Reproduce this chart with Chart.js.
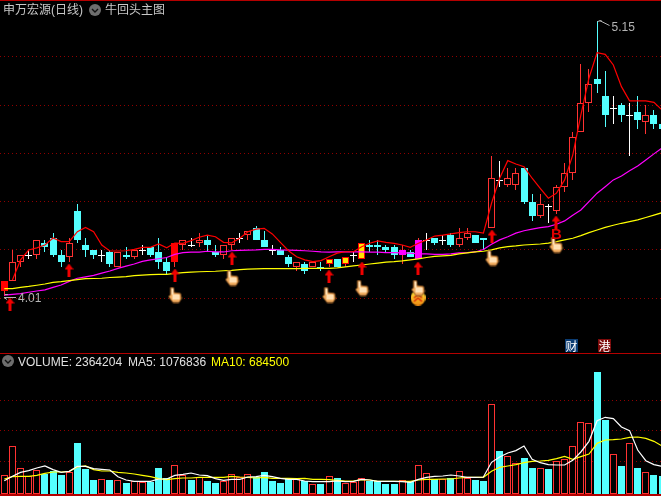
<!DOCTYPE html>
<html>
<head>
<meta charset="utf-8">
<title>申万宏源</title>
<script src="https://cdn.jsdelivr.net/npm/chart.js@4"></script>
<style>
    html, body { margin: 0; padding: 0; background: #000; overflow: hidden; }
    #stage { position: relative; width: 661px; height: 496px; background: #000; }
    canvas { position: absolute; left: 0; }
    #mainChart { top: 0; }
    #volChart { top: 354px; }
    .rule { position: absolute; left: 0; width: 661px; height: 1px; background: #b40000; }
    .txt { position: absolute; white-space: nowrap; font: 12px/14px "Liberation Sans", "Noto Sans CJK SC", sans-serif; color: #c8c8c8; }
    .badge { position: absolute; width: 13px; height: 13px; font: 12px/13px "Noto Sans CJK SC", sans-serif; color: #fff; text-align: center; }
    svg { position: absolute; }
</style>
</head>
<body>
<div id="stage">
    <canvas id="mainChart" width="661" height="353"></canvas>
    <canvas id="volChart" width="661" height="140"></canvas>
    <div class="rule" style="top:0"></div>
    <div class="rule" style="top:353px"></div>
    <div class="rule" style="top:494px;height:2px"></div>

    <span class="txt" style="left:3px;top:3px">申万宏源(日线)</span>
    <svg style="left:89px;top:4px" width="12" height="12"><circle cx="6" cy="6" r="6" fill="#6e6e6e"/><path d="M3 5l3 3 3-3" fill="none" stroke="#111" stroke-width="1.4"/></svg>
    <span class="txt" style="left:105px;top:3px">牛回头主图</span>

    <span class="badge" style="left:565px;top:339px;background:#0b3c72">财</span>
    <span class="badge" style="left:598px;top:339px;background:#7c0a0a">港</span>

    <svg style="left:2px;top:355px" width="12" height="12"><circle cx="6" cy="6" r="6" fill="#6e6e6e"/><path d="M3 5l3 3 3-3" fill="none" stroke="#111" stroke-width="1.4"/></svg>
    <span class="txt" style="left:18px;top:355px;color:#e0e0e0">VOLUME: 2364204</span>
    <span class="txt" style="left:128px;top:355px;color:#e0e0e0">MA5: 1076836</span>
    <span class="txt" style="left:211px;top:355px;color:#ffff00">MA10: 684500</span>
</div>
<script>
// Daily prices, one entry per bar
const opens = [4.03,4.07,4.15,4.18,4.18,4.23,4.25,4.18,4.17,4.36,4.22,4.20,4.18,4.19,4.13,4.18,4.17,4.20,4.21,4.19,4.15,4.15,4.22,4.22,4.23,4.24,4.19,4.18,4.22,4.25,4.26,4.29,4.24,4.20,4.20,4.17,4.13,4.14,4.13,4.13,4.14,4.16,4.14,4.18,4.16,4.22,4.22,4.21,4.21,4.18,4.19,4.16,4.24,4.25,4.24,4.26,4.22,4.25,4.26,4.25,4.29,4.49,4.47,4.47,4.54,4.40,4.34,4.38,4.36,4.46,4.52,4.69,4.81,4.91,4.84,4.79,4.80,4.76,4.77,4.73,4.76,4.72];
const highs = [4.07,4.20,4.18,4.20,4.24,4.24,4.27,4.20,4.25,4.39,4.25,4.20,4.20,4.20,4.19,4.21,4.20,4.22,4.21,4.25,4.17,4.23,4.24,4.25,4.27,4.26,4.22,4.22,4.25,4.27,4.28,4.30,4.28,4.22,4.21,4.18,4.15,4.15,4.15,4.15,4.16,4.16,4.17,4.19,4.23,4.24,4.24,4.22,4.22,4.22,4.20,4.25,4.27,4.25,4.26,4.27,4.29,4.29,4.26,4.25,4.59,4.57,4.54,4.54,4.54,4.43,4.43,4.39,4.47,4.56,4.69,4.97,4.95,5.15,4.94,4.84,4.81,4.81,4.84,4.80,4.78,4.72];
const lows = [4.01,4.07,4.13,4.16,4.16,4.19,4.17,4.13,4.15,4.23,4.17,4.16,4.15,4.13,4.13,4.16,4.16,4.18,4.17,4.12,4.10,4.13,4.20,4.21,4.21,4.19,4.17,4.16,4.20,4.23,4.24,4.24,4.21,4.18,4.18,4.13,4.11,4.10,4.13,4.11,4.13,4.13,4.13,4.15,4.16,4.19,4.18,4.19,4.16,4.14,4.17,4.16,4.20,4.22,4.22,4.21,4.21,4.24,4.23,4.20,4.29,4.46,4.46,4.45,4.39,4.32,4.33,4.31,4.35,4.44,4.49,4.69,4.77,4.85,4.71,4.72,4.73,4.59,4.70,4.68,4.70,4.70];
const closes = [4.07,4.15,4.18,4.18,4.24,4.21,4.18,4.15,4.23,4.24,4.20,4.18,4.18,4.14,4.19,4.17,4.20,4.20,4.18,4.15,4.11,4.23,4.24,4.22,4.24,4.22,4.18,4.22,4.25,4.25,4.28,4.24,4.21,4.20,4.18,4.14,4.15,4.11,4.15,4.12,4.16,4.13,4.17,4.18,4.23,4.21,4.21,4.20,4.18,4.20,4.17,4.24,4.24,4.23,4.24,4.22,4.25,4.27,4.23,4.24,4.50,4.49,4.50,4.52,4.40,4.34,4.39,4.38,4.46,4.52,4.67,4.81,4.89,4.89,4.76,4.79,4.76,4.76,4.74,4.76,4.72,4.70];

// Main panel averages
const redLine = [null,4.075,4.158,4.199,4.208,4.22,4.249,4.234,4.234,4.275,4.293,4.275,4.22,4.195,4.195,4.196,4.202,4.21,4.21,4.224,4.208,4.228,4.227,4.238,4.252,4.261,4.254,4.231,4.229,4.248,4.275,4.286,4.289,4.266,4.231,4.196,4.171,4.158,4.151,4.155,4.171,4.186,4.192,4.192,4.213,4.227,4.237,4.231,4.227,4.22,4.21,4.227,4.241,4.257,4.261,4.266,4.271,4.275,4.275,4.269,4.393,4.497,4.57,4.556,4.545,4.497,4.455,4.414,4.435,4.49,4.593,4.759,4.913,5.018,5.011,4.967,4.877,4.818,4.818,4.818,4.812,4.78];
const magentaLine = [4.012,4.015,4.018,4.024,4.029,4.034,4.044,4.054,4.069,4.082,4.088,4.094,4.103,4.112,4.123,4.132,4.141,4.152,4.158,4.163,4.168,4.181,4.188,4.19,4.19,4.194,4.191,4.191,4.196,4.198,4.199,4.2,4.202,4.202,4.2,4.199,4.198,4.196,4.194,4.191,4.19,4.191,4.192,4.191,4.191,4.19,4.19,4.188,4.188,4.187,4.186,4.183,4.183,4.181,4.181,4.183,4.187,4.188,4.191,4.201,4.223,4.241,4.254,4.269,4.279,4.286,4.292,4.296,4.306,4.32,4.343,4.365,4.4,4.435,4.462,4.49,4.506,4.528,4.548,4.573,4.598,4.623];
const yellowLine = [4.039,4.039,4.044,4.048,4.053,4.058,4.065,4.068,4.072,4.076,4.08,4.081,4.082,4.085,4.087,4.089,4.093,4.095,4.097,4.098,4.098,4.102,4.105,4.107,4.109,4.11,4.111,4.113,4.115,4.118,4.12,4.121,4.122,4.122,4.122,4.122,4.122,4.123,4.123,4.123,4.123,4.125,4.129,4.133,4.137,4.141,4.145,4.149,4.151,4.154,4.158,4.162,4.168,4.173,4.175,4.177,4.183,4.187,4.191,4.194,4.2,4.208,4.213,4.216,4.22,4.222,4.224,4.228,4.234,4.241,4.248,4.259,4.271,4.282,4.293,4.302,4.31,4.317,4.324,4.334,4.344,4.354];

// Volume panel, in units of 10000 shares
const volumes = [36.8,92.9,50.3,34.2,47,38.7,45.1,37.3,42.6,99.3,49,27.7,29,27.7,27.1,21.9,24.6,23.2,23.2,50.9,31,56.1,36.8,27.7,33.5,25.7,21.9,24.6,38.1,33.5,38.1,33.5,42.6,25.2,21.3,29,29,25.7,19.4,19.4,34.2,31,21.3,23.8,30.4,25.2,25.2,19.4,19.4,26.5,23.8,56.1,40.1,28.4,29.6,31,44.5,31,27.7,25.7,174.2,83.8,73.5,60,70.2,50.9,50.3,49,63.9,67.7,92.9,139.3,137.4,236.4,143.2,77.4,54.8,98.7,50.9,42.6,37.3,35.4];
const volMa5 = [25.8,34.2,41.9,45.2,50.3,54.2,47.1,41.9,43.9,53.5,53.5,49,47.7,46.4,33.5,27.1,24.5,24.5,24.5,29,29,36.1,38.1,40.6,36.8,35.5,29.7,26.4,28.4,28.4,32.9,33.5,36.1,33.5,30.3,28.4,28.4,25.2,23.9,23.9,23.9,25.2,23.9,24.5,28.4,27.1,24.5,24.5,24.5,23.9,22.6,28.4,32.3,34.2,34.8,36.8,34.8,32.3,32.3,32.9,61.3,71.6,79.3,83.9,92.9,67.1,60.6,56.8,56.1,56.1,65.1,81.3,101.9,141.9,148.4,145.8,129.6,122.6,85.1,64.5,56.8,53.5];
const volMa10 = [29,33.5,34.2,34.2,36.1,40,42.6,42.6,43.9,52.2,54.2,47.1,44.5,44.5,41.9,40.6,38.7,36.1,33.5,29.7,27.7,29.7,31,31,32.3,32.3,32.3,32.3,34.2,32.9,32.3,31,32.3,30.3,30.3,30.3,29.7,30.3,28.4,28.4,27.7,26.4,25.2,25.2,27.7,27.1,24.5,24.5,24.5,24.5,24.5,27.1,28.4,28.4,29,29,31,32.3,32.3,32.3,43.9,51.6,54.2,56.8,60.6,63.2,63.9,65.1,68.4,72.9,67.1,72.2,77.4,98,104.5,105.1,106.4,109.7,110.3,107.7,101.9,92.9];

// Gridline values
const priceTicks = [4.0, 4.2, 4.4, 4.6, 4.8, 5.0];
const volTicks = [62, 122, 181];

// Bars that get a special body
const solidDays = [0, 21];
const yellowDays = [40, 42, 44];
const magentaDays = [49, 51];
// Flat bars whose volume is still counted as up
const flatUpDays = [3, 12, 17, 29, 43, 52, 54, 75, 77];

// Signal markers
const arrowDays = [0.7, 8, 21, 28, 40, 44, 51, 60, 68];
const arrowPrices = [3.975, 4.116, 4.095, 4.166, 4.093, 4.124, 4.124, 4.257, 4.317];
const handDays = [21, 28, 40, 44, 51, 60, 68];
const handPrices = [4.012, 4.083, 4.012, 4.041, 4.041, 4.166, 4.22];
const badgeDays = [51];
const badgePrices = [4.0];
const letterDay = 68;
const letterPrice = 4.26;

const CYAN = '#54ffff';
const RED = '#ff3232';
const xMin = -0.53;
const xMax = 80.87;

// Draw a marker into a small canvas so it can be used as a pointStyle
function makeIcon(w, h, draw) {
    const c = document.createElement('canvas');
    c.width = w;
    c.height = h;
    draw(c.getContext('2d'));
    return c;
}

const arrowIcon = makeIcon(9, 13, (g) => {
    g.fillStyle = '#f00000';
    g.beginPath();
    g.moveTo(4.5, 0);
    g.lineTo(9, 6);
    g.lineTo(6, 6);
    g.lineTo(6, 13);
    g.lineTo(3, 13);
    g.lineTo(3, 6);
    g.lineTo(0, 6);
    g.closePath();
    g.fill();
});

const handIcon = makeIcon(15, 17, (g) => {
    g.fillStyle = '#f2ae62';
    g.strokeStyle = '#8a5420';
    g.lineWidth = 1;
    g.beginPath();
    g.moveTo(3, 1);
    g.lineTo(6, 1);
    g.lineTo(6.5, 6);
    g.lineTo(13, 7);
    g.lineTo(14, 12);
    g.lineTo(11.5, 16);
    g.lineTo(5.5, 16);
    g.lineTo(1, 10);
    g.lineTo(3, 8.5);
    g.closePath();
    g.fill();
    g.stroke();
    g.fillStyle = '#ffe0b4';
    g.fillRect(4, 2, 2, 6);
    g.fillRect(5, 8, 7, 5);
});

const badgeIcon = makeIcon(15, 15, (g) => {
    const grad = g.createLinearGradient(0, 0, 0, 15);
    grad.addColorStop(0, '#ffe23c');
    grad.addColorStop(1, '#f08a10');
    g.fillStyle = grad;
    g.beginPath();
    g.arc(7.5, 7.5, 7.5, 0, Math.PI * 2);
    g.fill();
    g.strokeStyle = '#d82808';
    g.lineWidth = 1.5;
    g.beginPath();
    g.moveTo(3.5, 7.5);
    g.lineTo(7.5, 4);
    g.lineTo(11.5, 7.5);
    g.moveTo(3.5, 11);
    g.lineTo(7.5, 7.5);
    g.lineTo(11.5, 11);
    g.stroke();
});

// Pixel snap the bars and icons so they stay crisp like the terminal's drawing
const snapPlugin = {
    id: 'snap',
    beforeDatasetsDraw(chart) {
        chart.getSortedVisibleDatasetMetas().forEach((meta) => {
            if (meta.type === 'bar') {
                meta.data.forEach((bar) => {
                    const top = Math.round(bar.y);
                    const base = Math.round(bar.base);
                    bar.x = Math.floor(bar.x) + 0.5;
                    bar.y = top;
                    bar.base = base === top ? top + 1 : base;
                });
            } else if (chart.data.datasets[meta.index].showLine === false) {
                meta.data.forEach((pt) => {
                    pt.x = Math.round(pt.x);
                    pt.y = Math.round(pt.y);
                });
            }
        });
    }
};

// High and low labels plus the B letter
const labelPlugin = {
    id: 'labels',
    afterDatasetsDraw(chart) {
        const { ctx, scales: { x, y } } = chart;
        const hi = Math.max(...highs);
        const lo = Math.min(...lows);
        const hiX = Math.round(x.getPixelForValue(highs.indexOf(hi))) + 0.5;
        const hiY = Math.round(y.getPixelForValue(hi)) + 0.5;
        const loY = Math.round(y.getPixelForValue(lo)) + 1.5;

        ctx.save();
        ctx.strokeStyle = '#b4b4b4';
        ctx.lineWidth = 1;
        ctx.beginPath();
        ctx.moveTo(hiX, hiY);
        ctx.lineTo(hiX + 4, hiY - 1);
        ctx.moveTo(hiX + 2, hiY - 1);
        ctx.lineTo(hiX + 12, hiY + 4);
        ctx.moveTo(5, loY - 3);
        ctx.lineTo(8, loY - 3);
        ctx.moveTo(4, loY);
        ctx.lineTo(16, loY);
        ctx.moveTo(4, loY);
        ctx.lineTo(7, loY + 2);
        ctx.stroke();

        ctx.fillStyle = '#b4b4b4';
        ctx.font = '12px "Liberation Sans", sans-serif';
        ctx.textBaseline = 'middle';
        ctx.fillText(hi.toFixed(2), hiX + 14, hiY + 6);
        ctx.fillText(lo.toFixed(2), 18, loY + 1);

        ctx.fillStyle = '#e00000';
        ctx.font = 'bold 15px "Liberation Sans", sans-serif';
        ctx.textAlign = 'center';
        ctx.fillText('B', x.getPixelForValue(letterDay), y.getPixelForValue(letterPrice));
        ctx.restore();
    }
};

// Shared options for both panels; only the value axis differs
function panelOptions(yMin, yMax, ticks) {
    return {
        responsive: false,
        animation: false,
        events: [],
        layout: { padding: 0, autoPadding: false },
        plugins: { legend: { display: false }, tooltip: { enabled: false } },
        scales: {
            x: { type: 'linear', display: false, offset: false, bounds: 'data', min: xMin, max: xMax },
            y: {
                min: yMin,
                max: yMax,
                afterBuildTicks: (scale) => { scale.ticks = ticks.map((value) => ({ value })); },
                ticks: { display: false },
                grid: { color: '#900000', drawTicks: false, lineWidth: 1 },
                border: { display: false, dash: [1, 3] }
            }
        }
    };
}

function lineSet(data, color, order) {
    return {
        type: 'line',
        data: data.map((v, i) => ({ x: i, y: v })),
        borderColor: color,
        borderWidth: 1.2,
        pointRadius: 0,
        tension: 0,
        order
    };
}

function iconSet(days, prices, icon, order) {
    return {
        type: 'line',
        showLine: false,
        data: days.map((d, i) => ({ x: d, y: prices[i] })),
        pointStyle: icon,
        pointRadius: 5,
        clip: false,
        order
    };
}

// Body colour for one candle
function bodyFill(i) {
    if (solidDays.includes(i)) return '#ff0000';
    if (yellowDays.includes(i)) return '#ffe600';
    if (magentaDays.includes(i)) return '#ff00ff';
    if (closes[i] > opens[i]) return '#000';
    if (closes[i] === opens[i]) return '#fff';
    return CYAN;
}

function bodyBorder(i) {
    if (solidDays.includes(i)) return '#ff0000';
    if (yellowDays.includes(i)) return '#ff0000';
    if (magentaDays.includes(i)) return '#ff00ff';
    if (closes[i] > opens[i]) return RED;
    if (closes[i] === opens[i]) return '#fff';
    return CYAN;
}

function wickColor(i) {
    if (closes[i] > opens[i]) return RED;
    if (closes[i] === opens[i]) return '#fff';
    return CYAN;
}

// Price panel
new Chart(document.getElementById('mainChart'), {
    data: {
        datasets: [
            {
                type: 'bar',
                grouped: false,
                barThickness: 1,
                inflateAmount: 0,
                data: highs.map((h, i) => ({ x: i, y: [lows[i], h] })),
                backgroundColor: highs.map((h, i) => wickColor(i)),
                order: 6
            },
            {
                type: 'bar',
                grouped: false,
                barThickness: 7,
                inflateAmount: 0,
                borderSkipped: false,
                borderWidth: closes.map((c, i) => (c === opens[i] ? 0 : 1)),
                data: closes.map((c, i) => ({ x: i, y: [Math.min(c, opens[i]), Math.max(c, opens[i])] })),
                backgroundColor: closes.map((c, i) => bodyFill(i)),
                borderColor: closes.map((c, i) => bodyBorder(i)),
                order: 5
            },
            lineSet(yellowLine, '#ffff00', 4),
            lineSet(magentaLine, '#ff00ff', 4),
            lineSet(redLine, '#ff0000', 3),
            iconSet(arrowDays, arrowPrices, arrowIcon, 2),
            iconSet(badgeDays, badgePrices, badgeIcon, 1),
            iconSet(handDays, handPrices, handIcon, 0)
        ]
    },
    options: panelOptions(3.7718, 5.2365, priceTicks),
    plugins: [snapPlugin, labelPlugin]
});

// Volume panel
new Chart(document.getElementById('volChart'), {
    data: {
        datasets: [
            {
                type: 'bar',
                grouped: false,
                barThickness: 7,
                inflateAmount: 0,
                borderSkipped: false,
                data: volumes.map((v, i) => ({ x: i, y: v })),
                backgroundColor: volumes.map((v, i) => (closes[i] > opens[i] || flatUpDays.includes(i) ? '#000' : CYAN)),
                borderColor: volumes.map((v, i) => (closes[i] > opens[i] || flatUpDays.includes(i) ? RED : CYAN)),
                borderWidth: 1,
                order: 3
            },
            lineSet(volMa10, '#ffff00', 2),
            lineSet(volMa5, '#ffffff', 1)
        ]
    },
    options: panelOptions(0, 270.9, volTicks),
    plugins: [snapPlugin]
});
</script>
</body>
</html>
